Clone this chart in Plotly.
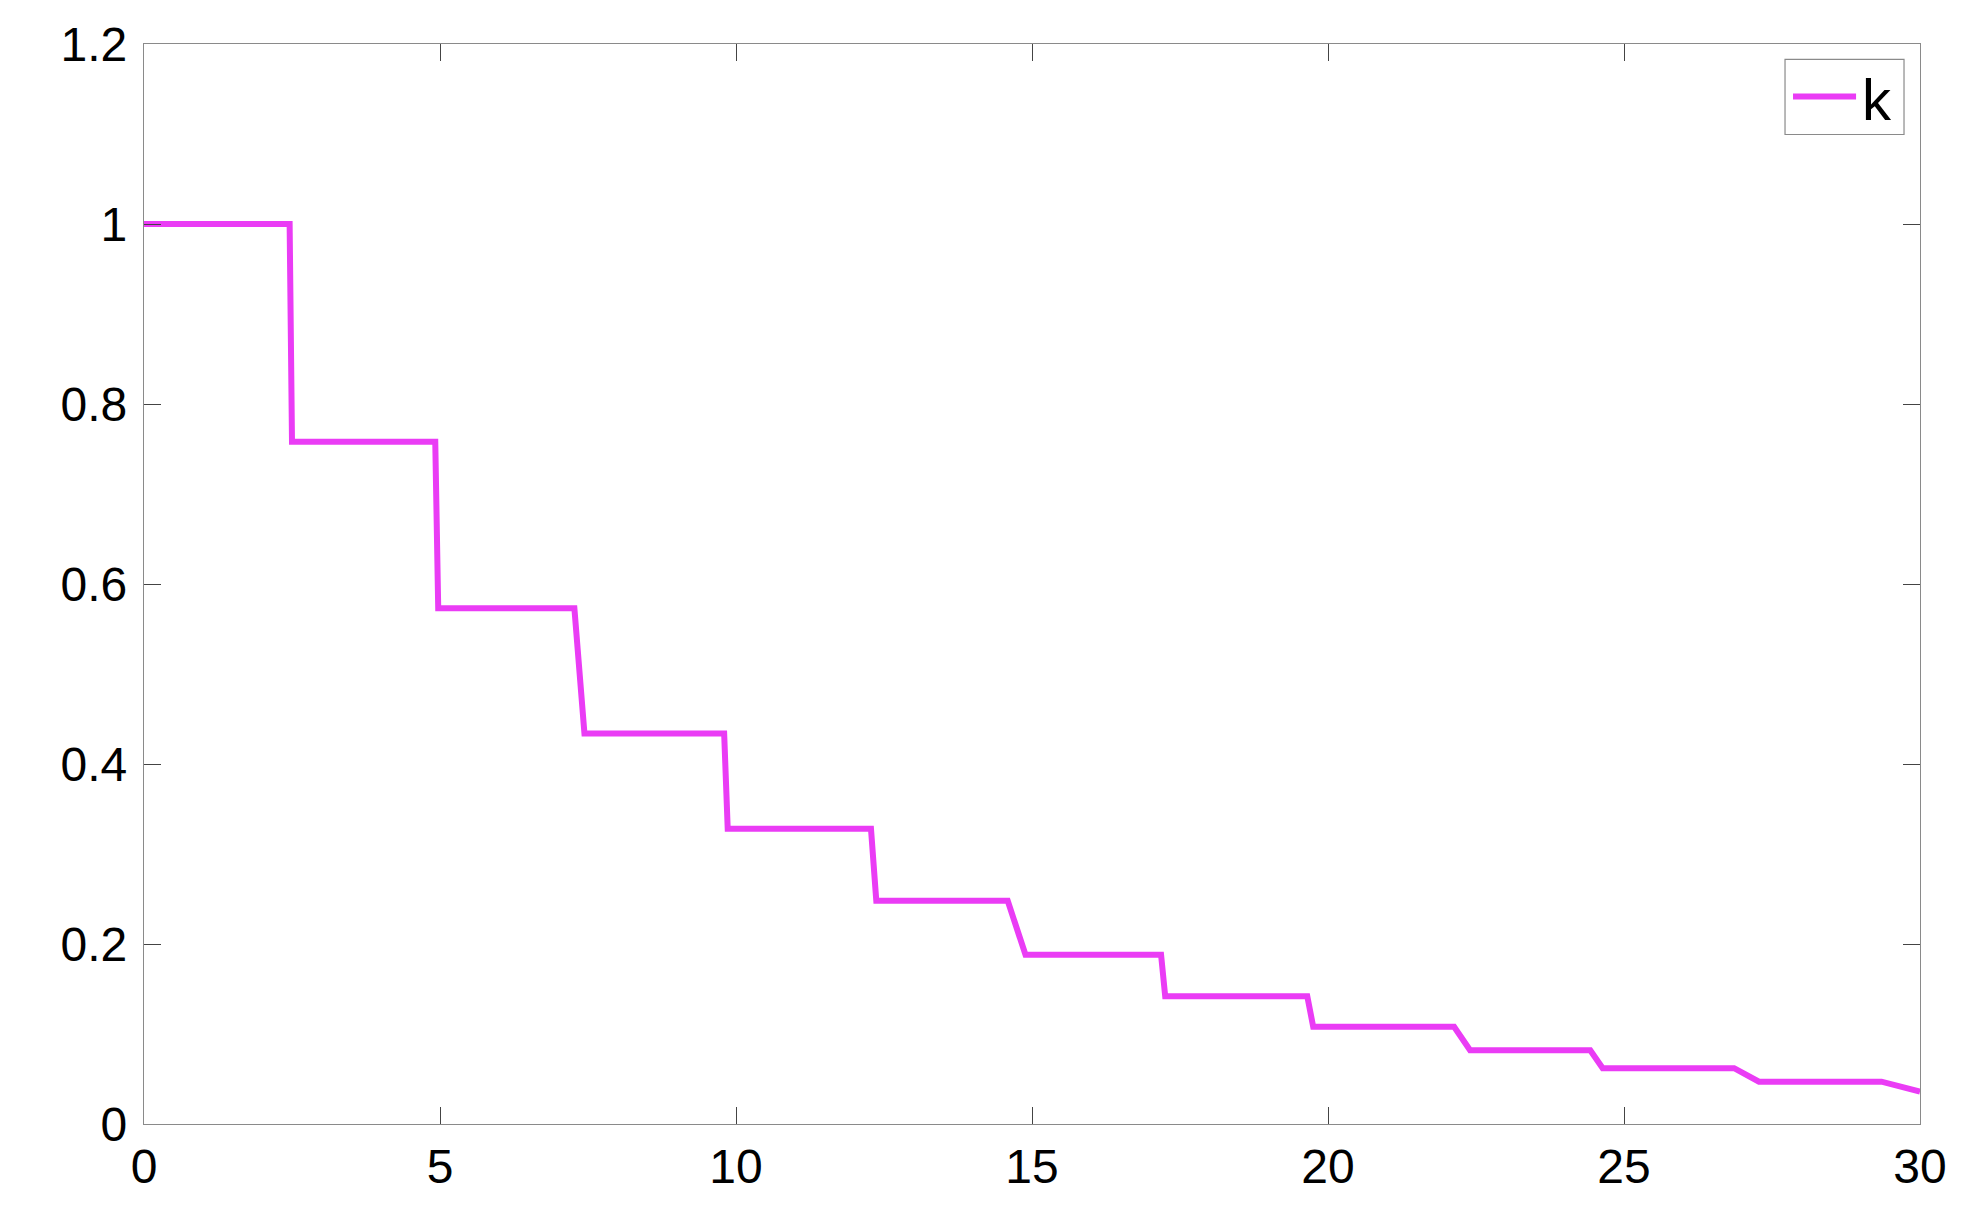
import plotly.graph_objects as go

# Step curve vertices
t_values = [0, 2.46, 2.50, 4.92, 4.97, 7.27, 7.44, 9.80, 9.86, 12.28, 12.37,
            14.59, 14.89, 17.18, 17.25, 19.65, 19.75, 22.13, 22.40, 24.43,
            24.64, 26.86, 27.28, 29.35, 30]
k_values = [1.0, 1.0, 0.758, 0.758, 0.573, 0.573, 0.434, 0.434, 0.328, 0.328,
            0.248, 0.248, 0.188, 0.188, 0.142, 0.142, 0.108, 0.108, 0.082,
            0.082, 0.062, 0.062, 0.047, 0.047, 0.036]
series_name = "k"

x_ticks = [0, 5, 10, 15, 20, 25, 30]
y_ticks = [0, 0.2, 0.4, 0.6, 0.8, 1.0, 1.2]
y_tick_text = ["0", "0.2", "0.4", "0.6", "0.8", "1", "1.2"]

FONT = "Liberation Sans, Arial, Helvetica, sans-serif"
LINE_COLOR = "#EA3CF5"
FRAME = "#8a8a8a"

fig = go.Figure()
fig.add_trace(go.Scatter(
    x=t_values, y=k_values, mode="lines", name=series_name,
    line=dict(color=LINE_COLOR, width=6), showlegend=False,
))

axis_common = dict(
    showgrid=False, zeroline=False, showline=True, linecolor=FRAME,
    linewidth=1.2, mirror="ticks", ticks="inside", ticklen=17,
    tickcolor="#444444", tickwidth=1, automargin=False,
    tickfont=dict(family=FONT, size=48, color="black"),
)

fig.update_layout(
    width=1980, height=1208,
    margin=dict(l=136, r=68, t=36, b=92),
    paper_bgcolor="white", plot_bgcolor="white",
    xaxis=dict(range=[0, 30], tickvals=x_ticks,
               ticktext=[str(v) for v in x_ticks],
               ticklabelstandoff=0, **axis_common),
    yaxis=dict(range=[0, 1.2], tickvals=y_ticks, ticktext=y_tick_text,
               ticklabelstandoff=6, **axis_common),
    showlegend=False,
)

# Legend box (drawn in paper coordinates)
fig.add_shape(type="rect", xref="paper", yref="paper",
              x0=0.924, x1=0.991, y0=0.9162, y1=0.9857,
              line=dict(color=FRAME, width=1.2), fillcolor="white", layer="above")
fig.add_shape(type="line", xref="paper", yref="paper",
              x0=0.9285, x1=0.964, y0=0.9514, y1=0.9514,
              line=dict(color=LINE_COLOR, width=6), layer="above")
fig.add_annotation(xref="paper", yref="paper", x=0.966, y=0.949,
                   xanchor="left", yanchor="middle", showarrow=False,
                   text=series_name,
                   font=dict(family=FONT, size=58, color="black"))

fig.write_html("out.html")
